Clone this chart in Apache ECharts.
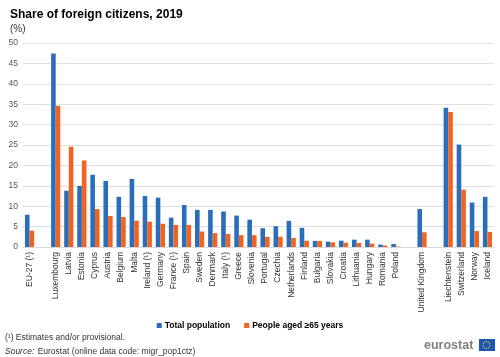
<!DOCTYPE html>
<html><head><meta charset="utf-8">
<script src="https://cdn.jsdelivr.net/npm/echarts@6/dist/echarts.min.js"></script>
<style>html,body{margin:0;padding:0;background:#fff}#c{width:500px;height:357px}</style>
</head><body><div id="c"></div>
<script>
var categories = ['EU-27 (¹)','','Luxembourg','Latvia','Estonia','Cyprus','Austria','Belgium','Malta','Ireland (¹)','Germany','France (¹)','Spain','Sweden','Denmark','Italy (¹)','Greece','Slovenia','Portugal','Czechia','Netherlands','Finland','Bulgaria','Slovakia','Croatia','Lithuania','Hungary','Romania','Poland',' ','United Kingdom','  ','Liechtenstein','Switzerland','Norway','Iceland'];
var totalPopulation = [7.9,null,47.4,13.8,15.0,17.7,16.2,12.3,16.7,12.5,12.1,7.2,10.3,9.1,9.1,8.7,7.7,6.7,4.6,5.1,6.4,4.7,1.5,1.3,1.55,1.8,1.8,0.6,0.75,null,9.3,null,34.1,25.1,10.9,12.3];
var aged65 = [4.0,null,34.6,24.6,21.2,9.3,7.6,7.35,6.45,6.2,5.7,5.4,5.4,3.8,3.4,3.2,2.9,2.9,2.5,2.5,2.2,1.55,1.5,1.15,1.05,1.0,0.8,0.35,0.1,null,3.6,null,33.1,14.05,3.9,3.7];
var yTicks = [0,5,10,15,20,25,30,35,40,45,50];
var seriesNames = ['Total population','People aged \u226565 years'];

var chart = echarts.init(document.getElementById('c'), null, {renderer:'canvas'});
var font = 'Liberation Sans, Arial, sans-serif';
var stars = [];
for (var i = 0; i < 12; i++) {
  var a = i * Math.PI / 6;
  stars.push({type:'circle', shape:{cx:486.5 + 3.5*Math.cos(a), cy:345 + 3.5*Math.sin(a), r:0.6}, style:{fill:'#ffdd00'}});
}
chart.setOption({
  animation:false,
  textStyle:{fontFamily:font},
  title:[
    {text:'Share of foreign citizens, 2019', left:5, top:4, textStyle:{fontSize:12, fontWeight:'bold', color:'#000', fontFamily:font}},
    {text:'(%)', left:5, top:19, textStyle:{fontSize:10, fontWeight:'normal', color:'#333', fontFamily:font}}
  ],
  legend:{
    data:seriesNames, left:'center', top:316, itemWidth:5, itemHeight:5, itemGap:14, icon:'rect',
    textStyle:{fontSize:8.5, fontWeight:'bold', color:'#000', fontFamily:font, padding:[0,0,0,-2]}
  },
  grid:{left:23, right:6, top:43, bottom:110, containLabel:false},
  xAxis:{
    type:'category', data:categories,
    axisLine:{show:true, lineStyle:{color:'#d9d9d9'}},
    axisTick:{show:false},
    axisLabel:{rotate:90, interval:0, fontSize:8.5, color:'#333', margin:5, fontFamily:font}
  },
  yAxis:{
    type:'value', min:yTicks[0], max:yTicks[yTicks.length-1], interval:5,
    axisLine:{show:false}, axisTick:{show:false},
    axisLabel:{fontSize:8.5, color:'#555', margin:5, fontFamily:font},
    splitLine:{lineStyle:{color:'#e0e0e0', width:1}}
  },
  series:[
    {name:seriesNames[0], type:'bar', data:totalPopulation, barWidth:4.6, barGap:'0%', itemStyle:{color:'#2a6ebb'}},
    {name:seriesNames[1], type:'bar', data:aged65, barWidth:4.6, barGap:'0%', itemStyle:{color:'#f06423'}}
  ],
  graphic:[
    {type:'text', left:5, top:333, style:{text:'(¹) Estimates and/or provisional.', fontSize:8.5, fill:'#333', fontFamily:font}},
    {type:'text', left:5, top:346, style:{rich:{i:{fontStyle:'italic', fontSize:8.5, fill:'#333', fontFamily:font}, n:{fontSize:8.5, fill:'#333', fontFamily:font}}, text:'{i|Source:} {n|Eurostat (online data code: migr_pop1ctz)}'}},
    {type:'text', left:424, top:339, style:{text:'eurostat', fontSize:12.5, fontWeight:'bold', fill:'#808080', fontFamily:font}},
    {type:'rect', shape:{x:479, y:339, width:16, height:12}, style:{fill:'#1a56b8'}},
    {type:'group', children:stars}
  ]
});
</script>
</body></html>
